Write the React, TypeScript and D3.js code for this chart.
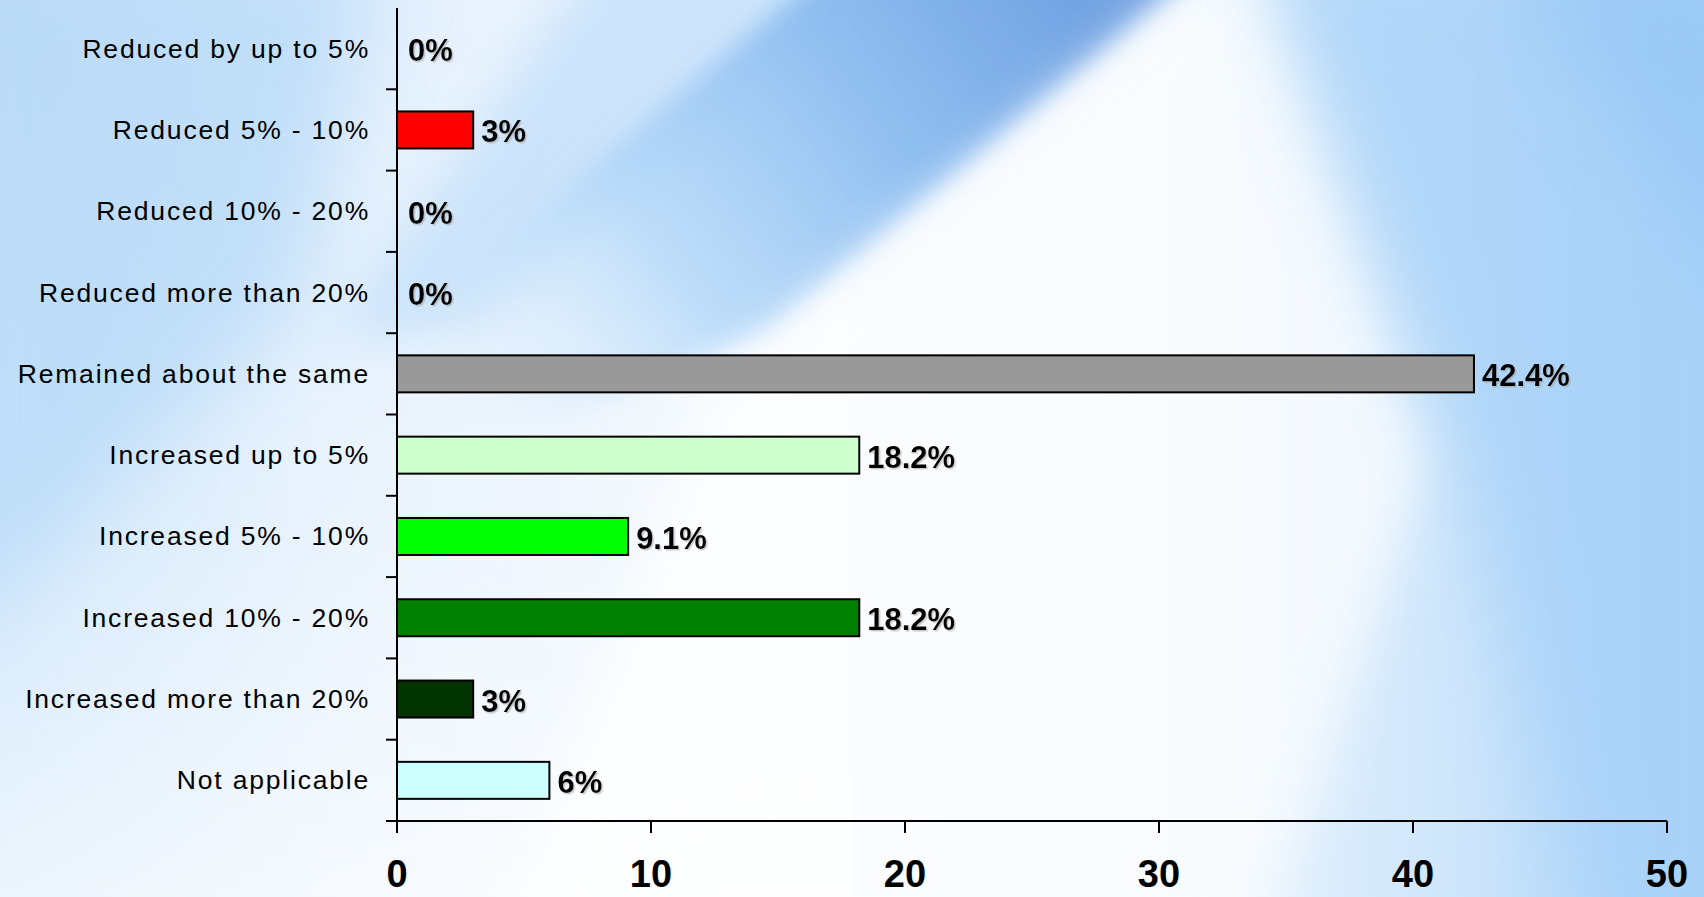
import React from "react";
import * as d3 from "d3";

const categories = [
  "Reduced by up to 5%",
  "Reduced 5% - 10%",
  "Reduced 10% - 20%",
  "Reduced more than 20%",
  "Remained about the same",
  "Increased up to 5%",
  "Increased 5% - 10%",
  "Increased 10% - 20%",
  "Increased more than 20%",
  "Not applicable",
];
const values = [0, 3, 0, 0, 42.4, 18.2, 9.1, 18.2, 3, 6];
const valueLabels = ["0%", "3%", "0%", "0%", "42.4%", "18.2%", "9.1%", "18.2%", "3%", "6%"];
const barColors = [
  "#ff0000", "#ff0000", "#ff0000", "#ff0000", "#999999",
  "#ccffcc", "#00ff00", "#008000", "#003300", "#ccffff",
];
const xTicks = [0, 10, 20, 30, 40, 50];

const W = 1704;
const H = 897;
const X0 = 397;
const X1 = 1667;
const Y0 = 8;
const Y1 = 821;

export default function App() {
  const x = d3.scaleLinear().domain([0, 50]).range([X0, X1]);
  const y = d3
    .scaleBand<string>()
    .domain(categories)
    .range([Y0, Y1])
    .paddingInner(0.545)
    .paddingOuter(0.2725);
  const step = y.step();
  const bw = y.bandwidth();
  const boundaries = categories.map((c) => (y(c) as number) - (step * 0.545) / 2);

  return (
    <svg
      width={W}
      height={H}
      style={{ position: "absolute", left: 0, top: 0, display: "block" }}
    >
      <defs>
        <linearGradient id="bgH" x1="0" y1="0" x2="1" y2="0">
          <stop offset="0" stopColor="#c2dff9" />
          <stop offset="0.2" stopColor="#e2effc" />
          <stop offset="0.45" stopColor="#f2f8fe" />
          <stop offset="0.7" stopColor="#eaf4fd" />
          <stop offset="0.86" stopColor="#cde5fb" />
          <stop offset="1" stopColor="#a8d2f8" />
        </linearGradient>
        <linearGradient id="bgV" x1="0" y1="0" x2="0" y2="1">
          <stop offset="0" stopColor="#ffffff" stopOpacity="0" />
          <stop offset="0.6" stopColor="#ffffff" stopOpacity="0.3" />
          <stop offset="1" stopColor="#ffffff" stopOpacity="0.7" />
        </linearGradient>
        <linearGradient id="bandG" gradientUnits="userSpaceOnUse" x1="1080" y1="0" x2="470" y2="430">
          <stop offset="0" stopColor="#72a3e2" stopOpacity="1" />
          <stop offset="0.3" stopColor="#8abbef" stopOpacity="0.95" />
          <stop offset="0.65" stopColor="#acd4f8" stopOpacity="0.75" />
          <stop offset="1" stopColor="#d6eafc" stopOpacity="0" />
        </linearGradient>
        <filter id="blur40" x="-40%" y="-40%" width="180%" height="180%">
          <feGaussianBlur stdDeviation="40" />
        </filter>
        <filter id="blur25" x="-30%" y="-30%" width="160%" height="160%">
          <feGaussianBlur stdDeviation="25" />
        </filter>
        <filter id="blur12" x="-30%" y="-30%" width="160%" height="160%">
          <feGaussianBlur stdDeviation="12" />
        </filter>
        <filter id="shadow" x="-10%" y="-10%" width="130%" height="130%">
          <feDropShadow dx="1.5" dy="1.5" stdDeviation="0.5" floodColor="#9a9a9a" floodOpacity="0.5" />
        </filter>
      </defs>

      {/* background */}
      <rect x={0} y={0} width={W} height={H} fill="url(#bgH)" />
      <rect x={0} y={0} width={W * 0.5} height={H} fill="url(#bgV)" />
      <polygon
        points="-50,-50 380,-50 300,300 -50,640"
        fill="#b6d9f8"
        opacity={0.7}
        filter="url(#blur40)"
      />
      <polygon
        points="600,-50 900,-50 470,330 330,340"
        fill="#c4e0fa"
        opacity={0.8}
        filter="url(#blur25)"
      />
      <polygon
        points="860,-60 1240,-60 770,330 560,420 430,420 430,300"
        fill="url(#bandG)"
        filter="url(#blur12)"
      />
      <polygon
        points="1228,-50 1262,-50 1430,450 1260,950 500,950 700,400"
        fill="#ffffff"
        opacity={0.7}
        filter="url(#blur25)"
      />
      <polygon
        points="1255,-60 1760,-60 1760,950 1590,950 1460,460"
        fill="#a8d2f8"
        opacity={0.8}
        filter="url(#blur40)"
      />
      <polygon
        points="1500,-50 1760,-50 1760,320"
        fill="#92c3f4"
        opacity={0.6}
        filter="url(#blur40)"
      />

      {/* bars */}
      {categories.map((c, i) =>
        values[i] > 0 ? (
          <rect
            key={c}
            x={x(0)}
            y={y(c)}
            width={x(values[i]) - x(0)}
            height={bw}
            fill={barColors[i]}
            stroke="#000"
            strokeWidth={2}
          />
        ) : null
      )}

      {/* axes */}
      <line x1={X0} y1={Y0} x2={X0} y2={Y1 + 12} stroke="#000" strokeWidth={2} />
      <line x1={X0 - 11} y1={Y1} x2={X1} y2={Y1} stroke="#000" strokeWidth={2} />
      {boundaries.slice(1).map((b, i) => (
        <line key={i} x1={X0 - 11} y1={b} x2={X0} y2={b} stroke="#000" strokeWidth={2} />
      ))}
      {xTicks.map((t) => (
        <line key={t} x1={x(t)} y1={Y1} x2={x(t)} y2={Y1 + 12} stroke="#000" strokeWidth={2} />
      ))}

      {/* category labels */}
      {categories.map((c) => (
        <text
          key={c}
          x={X0 - 27}
          y={(y(c) as number) + bw / 2}
          textAnchor="end"
          dominantBaseline="central"
          fontFamily="'Liberation Sans', Arial, sans-serif"
          fontSize={26.5}
          letterSpacing={1.8}
          fill="#000"
        >
          {c}
        </text>
      ))}

      {/* value labels */}
      {categories.map((c, i) => (
        <text
          key={c}
          x={x(values[i]) + (values[i] > 0 ? 8 : 11)}
          y={(y(c) as number) + bw / 2 + 2}
          dominantBaseline="central"
          fontFamily="'Liberation Sans', Arial, sans-serif"
          fontWeight="bold"
          fontSize={31}
          fill="#000"
          filter="url(#shadow)"
        >
          {valueLabels[i]}
        </text>
      ))}

      {/* x tick labels */}
      {xTicks.map((t) => (
        <text
          key={t}
          x={x(t)}
          y={887}
          textAnchor="middle"
          fontFamily="'Liberation Sans', Arial, sans-serif"
          fontWeight="bold"
          fontSize={38}
          fill="#000"
        >
          {t}
        </text>
      ))}
    </svg>
  );
}
